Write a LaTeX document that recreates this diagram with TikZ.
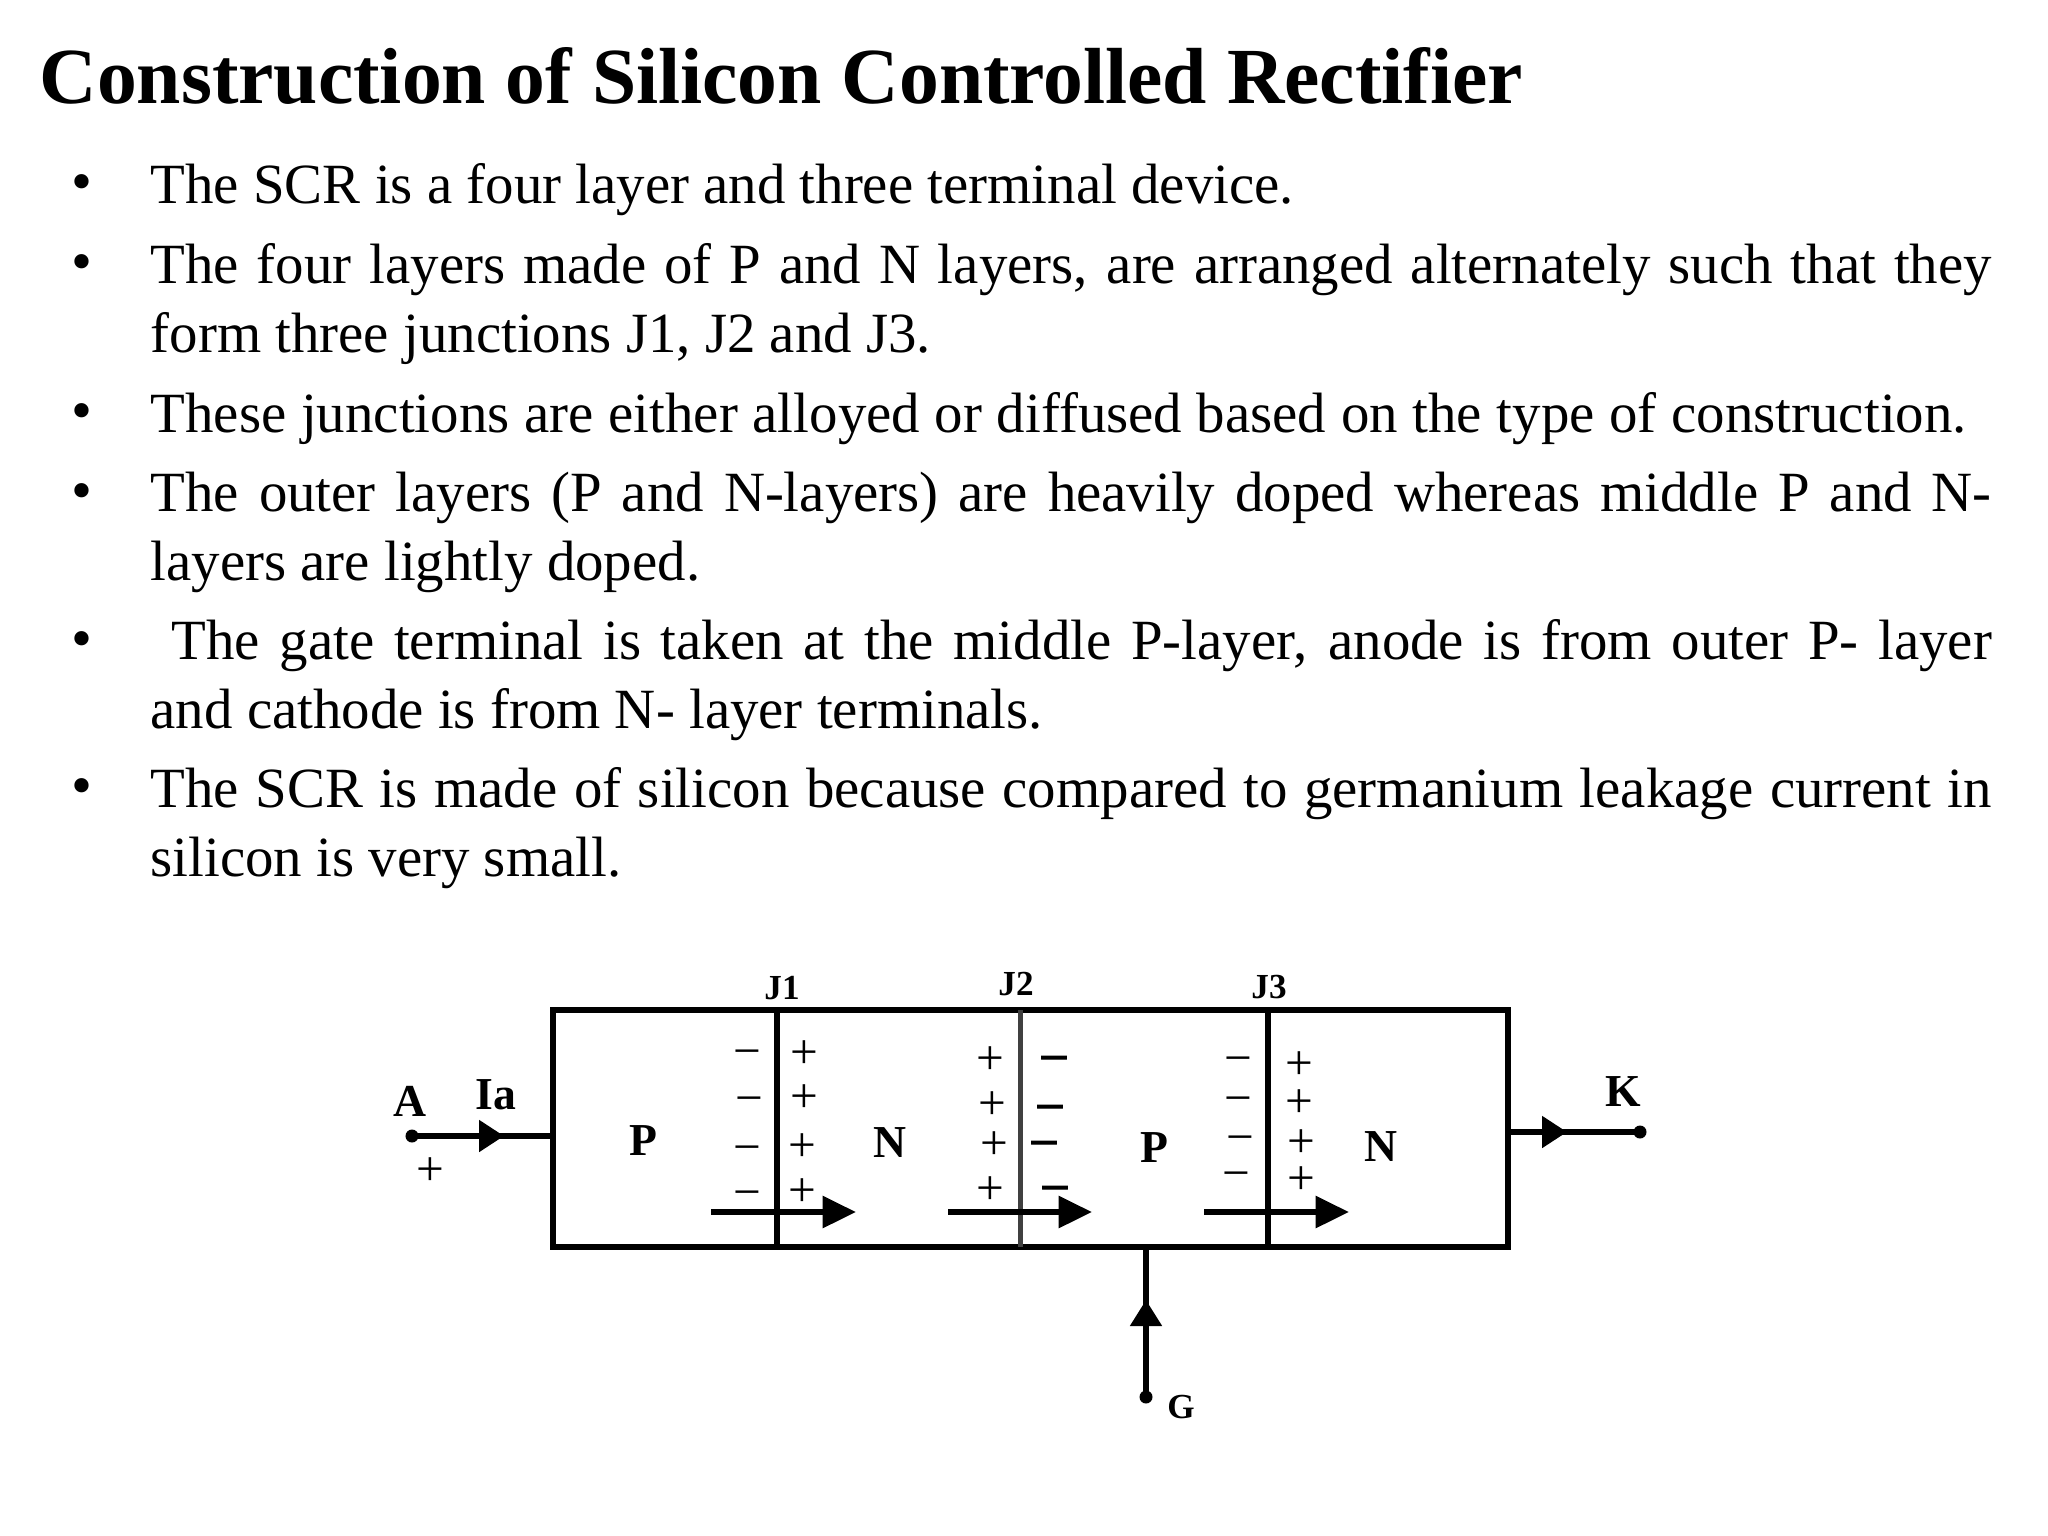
\documentclass[tikz,border=0pt]{standalone}
\usepackage{fontspec}
\setmainfont{Liberation Serif}
\newfontface\heavyface[FakeBold=2.5]{Liberation Serif}
\usetikzlibrary{arrows.meta}
\tikzset{
  titletext/.style={anchor=base west,inner sep=0pt,font=\fontsize{22.62}{24}\selectfont\bfseries},
  linetext/.style={anchor=base west,inner sep=0pt,font=\fontsize{16.17}{18}\selectfont},
  bulletmark/.style={inner sep=0pt,font=\fontsize{17}{18}\selectfont},
  layerlabel/.style={inner sep=0pt,font=\fontsize{13}{16}\selectfont\bfseries},
  junclabel/.style={inner sep=0pt,font=\fontsize{10}{12}\selectfont\bfseries},
  possign/.style={inner sep=0pt,yshift=-1.1pt,font=\fontsize{14}{16}\selectfont},
  negsign/.style={inner sep=0pt,yshift=-2.5pt,font=\fontsize{14}{16}\selectfont},
  boldneg/.style={inner sep=0pt,yshift=-2.5pt,font=\fontsize{15}{16}\heavyface},
  wire/.style={line width=1.5pt,black},
  tipwire/.style={wire,-{Triangle[length=7.1pt,width=8.8pt]}},
  crossarrow/.style={line width=1.8pt,-{Triangle[length=9.5pt,width=8.8pt]}},
  termdot/.style={circle,fill=black,inner sep=0pt,minimum size=3.7pt}
}
% full width line, glue stretches to the right margin
\newcommand{\wideline}[2]{\hbox to #1{#2}}
\begin{document}
\begin{tikzpicture}[x=0.01cm,y=-0.01cm]
  \useasboundingbox (0,0) rectangle (2048,1536);

  \node[titletext] (heading) at (39,103) {Construction of Silicon Controlled Rectifier};

  % bullets
  \foreach \y [count=\i] in {188,268,417,497,645,792.5}{
    \node[bulletmark] (dot\i) at (82,\y) {•};
  }
  \node[linetext] (ln1) at (150,203) {The SCR is a four layer and three terminal device.};
  \node[linetext] (ln2) at (150,283) {\wideline{18.4cm}{The four layers made of P and N layers, are arranged alternately such that they}};
  \node[linetext] (ln3) at (150,352) {form three junctions J1, J2 and J3.};
  \node[linetext] (ln4) at (150,432) {\wideline{18.15cm}{These junctions are either alloyed or diffused based on the type of construction.}};
  \node[linetext] (ln5) at (150,511.5) {\wideline{18.4cm}{The outer layers (P and N-layers) are heavily doped whereas middle P and N-}};
  \node[linetext] (ln6) at (150,580) {layers are lightly doped.};
  \node[linetext] (ln7) at (171,659.5) {\wideline{18.19cm}{The gate terminal is taken at the middle P-layer, anode is from outer P- layer}};
  \node[linetext] (ln8) at (150,728) {and cathode is from N- layer terminals.};
  \node[linetext] (ln9) at (150,807.5) {\wideline{18.4cm}{The SCR is made of silicon because compared to germanium leakage current in}};
  \node[linetext] (ln10) at (150,876) {silicon is very small.};

  % device body
  \node[draw,line width=1.6pt,minimum width=9.546cm,minimum height=2.367cm,inner sep=0pt] (scr) at (1030.3,1128.4) {};

  \foreach \x/\name/\col in {777/J1/black,1020.5/J2/black!75,1268/J3/black}{
    \coordinate (top\name) at (\x,1010);
    \coordinate (bot\name) at (\x,1247);
    \draw[line width=1.5pt,\col] (top\name) -- (bot\name);
  }
  \node[junclabel] (labJ1) at (782,988) {J1};
  \node[junclabel] (labJ2) at (1016,984) {J2};
  \node[junclabel] (labJ3) at (1269,987) {J3};

  \node[layerlabel] (p1) at (643,1141) {P};
  \node[layerlabel] (n1) at (890,1143) {N};
  \node[layerlabel] (p2) at (1154,1148) {P};
  \node[layerlabel] (n2) at (1381,1147) {N};

  % charges at the junctions
  \foreach \x/\y [count=\i] in {747/1050,749/1097,747/1146,747/1191}{
    \node[negsign] (aneg\i) at (\x,\y) {−};
  }
  \foreach \x/\y [count=\i] in {804/1051,804/1095,802/1144,802/1189}{
    \node[possign] (apos\i) at (\x,\y) {+};
  }
  \foreach \x/\y [count=\i] in {990/1057,992/1102,994/1142,990/1187}{
    \node[possign] (bpos\i) at (\x,\y) {+};
  }
  \foreach \x/\y [count=\i] in {1054/1057,1050/1106,1044/1142,1055/1187}{
    \node[boldneg] (bneg\i) at (\x,\y) {−};
  }
  \foreach \x/\y [count=\i] in {1238/1057,1238/1097,1240/1136,1236/1172}{
    \node[negsign] (cneg\i) at (\x,\y) {−};
  }
  \foreach \x/\y [count=\i] in {1299/1062,1299/1100,1301/1140,1301/1177}{
    \node[possign] (cpos\i) at (\x,\y) {+};
  }

  % arrows across the junctions
  \foreach \a/\b/\n in {711/856/1,948/1092/2,1204/1349/3}{
    \coordinate (from\n) at (\a,1212);
    \coordinate (to\n) at (\b,1212);
    \draw[crossarrow] (from\n) -- (to\n);
  }

  % terminals
  \node[termdot] (anode) at (412,1136) {};
  \coordinate (anodetip) at (504,1136);
  \coordinate (anodebase) at (490,1136);
  \draw[tipwire] (anode.center) -- (anodetip);
  \draw[wire] (anodebase) -- (scr.west |- anodebase);
  \node[layerlabel] (labA) at (410,1101) {A};
  \node[layerlabel] (labIa) at (496,1095) {Ia};
  \node[possign] (plusA) at (430,1168) {+};

  \node[termdot] (cathode) at (1640,1132) {};
  \coordinate (cathodetip) at (1567,1132);
  \coordinate (cathodebase) at (1555,1132);
  \draw[tipwire] (scr.east |- cathodetip) -- (cathodetip);
  \draw[wire] (cathodebase) -- (cathode.center);
  \node[layerlabel] (labK) at (1623,1092) {K};

  \node[termdot] (gate) at (1146,1397) {};
  \coordinate (gatetip) at (1146,1300);
  \coordinate (gatebase) at (1146,1312);
  \draw[wire,-{Triangle[length=7.4pt,width=8.8pt]}] (gate.center) -- (gatetip);
  \draw[wire] (gatebase) -- (gatebase |- scr.south);
  \node[junclabel] (labG) at (1181,1407) {G};
\end{tikzpicture}
\end{document}
